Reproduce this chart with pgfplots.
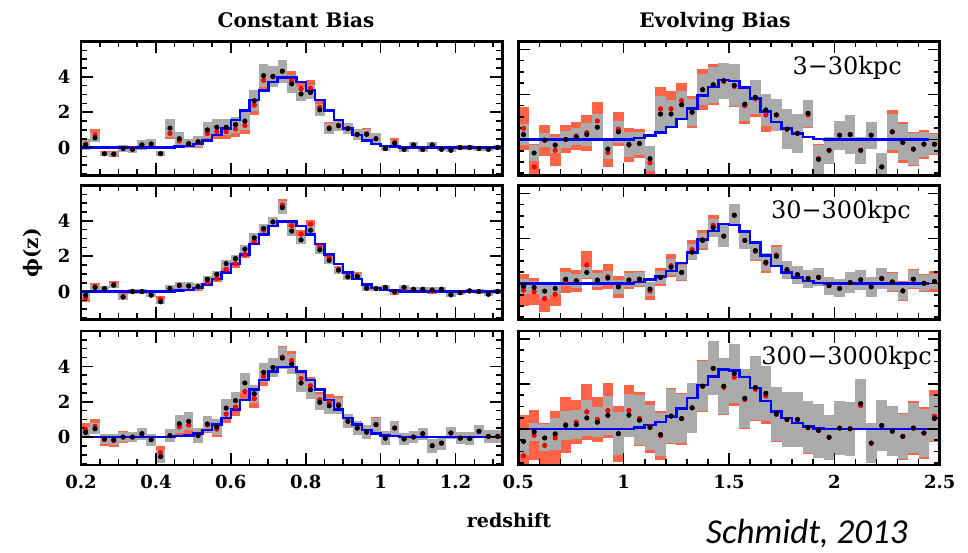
\documentclass[border=0pt]{standalone}
\usepackage{pgfplots}
\pgfplotsset{compat=1.18}
\usepackage{pgfplotstable}
\usepackage{fontspec}
\setmainfont{DejaVu Serif}
\newfontfamily\calibri{Carlito}
\definecolor{bandgray}{RGB}{170,170,170}
\definecolor{bandred}{RGB}{255,99,71}

% ---------------- Constant bias (left column) ----------------
\pgfplotstableread{
z b r eg er
0.2125 0.15 0.20 0.28 0.30
0.2375 0.55 0.70 0.25 0.35
0.2625 -0.35 -0.35 0.12 0.15
0.2875 -0.37 -0.37 0.12 0.15
0.3125 -0.05 -0.05 0.18 0.18
0.3375 -0.10 -0.08 0.18 0.18
0.3625 0.15 0.15 0.30 0.30
0.3875 0.20 0.20 0.30 0.30
0.4125 -0.35 -0.33 0.15 0.15
0.4375 1.10 0.80 0.52 0.33
0.4625 0.50 0.37 0.40 0.35
0.4875 0.22 0.22 0.25 0.25
0.5125 0.33 0.30 0.30 0.30
0.5375 1.00 0.80 0.45 0.40
0.5625 1.15 0.90 0.45 0.40
0.5875 1.15 0.90 0.45 0.40
0.6125 1.30 1.05 0.45 0.45
0.6375 1.50 1.25 0.50 0.50
0.6625 2.65 2.40 0.58 0.55
0.6875 4.07 3.80 0.65 0.60
0.7125 4.03 4.00 0.60 0.60
0.7375 4.33 4.30 0.65 0.65
0.7625 3.60 3.78 0.50 0.55
0.7875 3.03 3.33 0.40 0.45
0.8125 3.12 3.36 0.40 0.45
0.8375 2.13 2.28 0.35 0.35
0.8625 1.07 1.12 0.30 0.30
0.8875 1.23 1.27 0.30 0.30
0.9125 1.07 1.08 0.30 0.30
0.9375 0.75 0.72 0.30 0.30
0.9625 0.75 0.78 0.30 0.30
0.9875 0.50 0.50 0.30 0.30
1.0125 -0.06 -0.06 0.15 0.15
1.0375 0.24 0.30 0.20 0.22
1.0625 -0.10 -0.10 0.15 0.15
1.0875 0.15 0.15 0.18 0.18
1.1125 -0.10 -0.10 0.15 0.15
1.1375 0.15 0.15 0.18 0.18
1.1625 -0.10 -0.10 0.12 0.12
1.1875 -0.15 -0.15 0.12 0.12
1.2125 0.00 0.00 0.12 0.12
1.2375 0.00 0.00 0.12 0.12
1.2625 -0.05 -0.05 0.12 0.12
1.2875 -0.10 -0.10 0.12 0.12
1.3125 0.00 0.00 0.12 0.12
}\TL

\pgfplotstableread{
z b r eg er
0.2125 -0.20 -0.34 0.20 0.25
0.2375 0.23 0.28 0.15 0.20
0.2625 0.17 0.17 0.15 0.15
0.2875 0.36 0.40 0.15 0.20
0.3125 -0.30 -0.30 0.15 0.20
0.3375 0.00 0.00 0.12 0.12
0.3625 0.00 0.00 0.12 0.12
0.3875 -0.20 -0.20 0.12 0.12
0.4125 -0.58 -0.43 0.15 0.20
0.4375 0.17 0.17 0.20 0.20
0.4625 0.36 0.32 0.20 0.20
0.4875 0.32 0.30 0.20 0.20
0.5125 0.28 0.25 0.20 0.20
0.5375 0.70 0.50 0.20 0.20
0.5625 0.98 0.74 0.20 0.20
0.5875 1.58 1.26 0.22 0.22
0.6125 1.87 1.58 0.22 0.22
0.6375 2.40 2.10 0.22 0.22
0.6625 3.04 2.87 0.25 0.25
0.6875 3.57 3.47 0.25 0.25
0.7125 3.94 3.94 0.25 0.25
0.7375 4.75 4.90 0.35 0.35
0.7625 3.42 3.72 0.25 0.25
0.7875 2.92 3.25 0.25 0.25
0.8125 3.47 3.81 0.25 0.25
0.8375 2.36 2.55 0.22 0.22
0.8625 1.77 1.92 0.20 0.20
0.8875 1.21 1.25 0.20 0.20
0.9125 0.83 0.87 0.20 0.20
0.9375 0.85 0.89 0.20 0.20
0.9625 0.19 0.20 0.15 0.15
0.9875 0.17 0.17 0.15 0.15
1.0125 0.23 0.23 0.15 0.15
1.0375 0.00 -0.05 0.15 0.15
1.0625 0.23 0.18 0.15 0.15
1.0875 0.13 0.13 0.15 0.15
1.1125 0.13 0.13 0.15 0.15
1.1375 0.09 0.04 0.15 0.15
1.1625 0.13 0.13 0.15 0.15
1.1875 -0.19 -0.19 0.12 0.12
1.2125 -0.06 -0.06 0.12 0.12
1.2375 0.04 0.04 0.12 0.12
1.2625 0.00 0.00 0.12 0.12
1.2875 -0.15 -0.15 0.12 0.12
1.3125 0.00 0.00 0.12 0.12
}\ML

\pgfplotstableread{
z b r eg er
0.2125 0.26 0.42 0.30 0.40
0.2375 0.47 0.60 0.30 0.45
0.2625 -0.10 -0.15 0.30 0.35
0.2875 -0.15 -0.20 0.30 0.35
0.3125 0.00 0.00 0.30 0.35
0.3375 0.00 0.00 0.30 0.30
0.3625 0.19 0.19 0.35 0.35
0.3875 -0.15 -0.15 0.35 0.35
0.4125 -1.10 -0.87 0.35 0.35
0.4375 0.08 0.08 0.35 0.35
0.4625 0.75 0.57 0.50 0.50
0.4875 0.89 0.68 0.50 0.50
0.5125 0.09 0.09 0.40 0.40
0.5375 0.74 0.68 0.45 0.45
0.5625 0.57 0.45 0.45 0.45
0.5875 1.64 1.30 0.50 0.50
0.6125 2.06 1.70 0.50 0.50
0.6375 3.06 2.58 0.55 0.55
0.6625 2.45 2.17 0.50 0.50
0.6875 3.66 3.43 0.55 0.55
0.7125 3.94 3.94 0.55 0.55
0.7375 4.47 4.53 0.60 0.60
0.7625 4.13 4.34 0.55 0.55
0.7875 3.06 3.32 0.50 0.50
0.8125 2.68 2.90 0.50 0.50
0.8375 1.96 2.11 0.45 0.45
0.8625 1.77 1.96 0.45 0.45
0.8875 1.77 1.85 0.45 0.45
0.9125 0.89 0.89 0.40 0.40
0.9375 0.51 0.51 0.40 0.40
0.9625 0.28 0.28 0.40 0.40
0.9875 0.70 0.72 0.40 0.40
1.0125 -0.06 -0.06 0.40 0.40
1.0375 0.51 0.51 0.40 0.40
1.0625 -0.11 -0.11 0.35 0.35
1.0875 0.00 0.00 0.35 0.35
1.1125 0.19 0.19 0.35 0.35
1.1375 -0.49 -0.49 0.40 0.40
1.1625 -0.34 -0.34 0.40 0.40
1.1875 0.23 0.23 0.35 0.35
1.2125 -0.06 -0.06 0.35 0.35
1.2375 -0.08 -0.08 0.35 0.35
1.2625 0.32 0.32 0.35 0.35
1.2875 0.04 0.04 0.35 0.35
1.3125 0.04 0.04 0.35 0.35
}\BL

% ---------------- Evolving bias (right column) ----------------
\pgfplotstableread{
z b r eg er
0.525 0.22 0.49 0.46 0.97
0.575 -0.60 -1.22 0.37 1.00
0.625 -0.03 -0.03 0.30 0.69
0.675 -0.25 -0.48 0.34 0.72
0.725 0.00 0.00 0.37 0.62
0.775 0.12 0.15 0.37 0.62
0.825 0.22 0.30 0.52 0.80
0.875 0.54 0.82 0.57 0.83
0.925 -0.43 -0.58 0.45 0.64
0.975 0.34 0.46 0.49 0.77
1.025 -0.22 -0.25 0.56 0.76
1.075 -0.18 -0.18 0.52 0.65
1.125 -0.85 -1.03 0.54 0.60
1.175 1.13 1.36 0.82 0.97
1.225 1.13 1.36 0.63 0.80
1.275 1.54 1.72 0.60 0.80
1.325 1.21 1.21 0.60 0.70
1.375 2.21 2.21 0.70 0.90
1.425 2.43 2.43 0.80 0.90
1.475 2.61 2.58 0.80 0.80
1.525 2.40 2.36 0.93 0.93
1.575 1.57 1.50 0.75 0.80
1.625 1.87 1.80 0.75 0.80
1.675 1.31 1.09 0.70 0.75
1.725 1.09 1.09 0.70 0.70
1.775 0.46 0.46 0.90 0.90
1.825 0.27 0.27 0.85 0.85
1.875 1.16 1.09 0.60 0.60
1.925 -0.88 -0.85 0.65 0.65
1.975 -0.48 -0.48 0.60 0.60
2.025 0.19 0.19 0.65 0.65
2.075 0.22 0.22 0.85 0.85
2.125 -0.48 -0.48 0.60 0.60
2.175 0.19 0.19 0.60 0.60
2.225 -1.22 -1.22 0.60 0.60
2.275 0.34 0.34 0.80 0.95
2.325 -0.13 -0.13 0.80 0.90
2.375 -0.43 -0.43 0.70 0.75
2.425 -0.21 -0.21 0.55 0.65
2.475 -0.21 -0.21 0.45 0.50
}\TR

\pgfplotstableread{
z b r eg er
0.525 -0.13 -0.30 0.34 0.70
0.575 -0.18 -0.37 0.30 0.60
0.625 -0.34 -0.67 0.35 0.60
0.675 -0.22 -0.48 0.30 0.50
0.725 0.19 0.12 0.30 0.56
0.775 0.12 0.12 0.30 0.50
0.825 0.49 0.82 0.26 0.60
0.875 0.15 0.15 0.30 0.45
0.925 0.24 0.30 0.30 0.55
0.975 -0.15 -0.15 0.30 0.50
1.025 0.15 0.15 0.30 0.40
1.075 0.19 0.19 0.30 0.35
1.125 -0.25 -0.33 0.30 0.40
1.175 0.27 0.27 0.30 0.40
1.225 0.72 0.79 0.35 0.50
1.275 0.49 0.49 0.35 0.40
1.325 1.39 1.50 0.35 0.45
1.375 1.91 1.94 0.35 0.45
1.425 2.48 2.58 0.40 0.45
1.475 2.10 2.10 0.50 0.50
1.525 3.03 3.03 0.48 0.48
1.575 1.91 1.91 0.40 0.40
1.625 1.46 1.43 0.40 0.45
1.675 0.94 0.90 0.40 0.45
1.725 1.21 1.27 0.40 0.45
1.775 0.61 0.61 0.40 0.40
1.825 0.39 0.39 0.40 0.40
1.875 0.22 0.22 0.40 0.40
1.925 0.27 0.27 0.40 0.40
1.975 -0.10 -0.10 0.40 0.40
2.025 -0.22 -0.22 0.40 0.40
2.075 0.04 0.04 0.45 0.45
2.125 0.16 0.16 0.45 0.45
2.175 -0.15 -0.15 0.45 0.45
2.225 0.22 0.22 0.45 0.45
2.275 0.07 0.07 0.40 0.45
2.325 -0.33 -0.33 0.40 0.45
2.375 0.19 0.19 0.40 0.45
2.425 0.01 0.01 0.35 0.40
2.475 0.09 0.09 0.35 0.45
}\MR

\pgfplotstableread{
z b r eg er
0.525 -0.55 -1.19 0.60 1.80
0.575 -0.13 -0.28 0.40 1.10
0.625 -0.40 -0.73 0.60 1.00
0.675 -0.22 -0.40 0.70 1.20
0.725 0.16 0.19 0.65 1.25
0.775 0.19 0.30 0.63 0.97
0.825 0.49 0.76 0.80 1.25
0.875 0.30 0.42 0.66 1.00
0.925 0.60 0.82 0.85 1.20
0.975 -0.21 -0.21 0.95 1.25
1.025 0.61 0.82 0.95 1.15
1.075 0.39 0.46 1.10 1.20
1.125 0.07 0.10 1.00 1.15
1.175 -0.25 -0.30 0.97 1.10
1.225 0.57 0.57 1.20 1.25
1.275 0.46 0.46 1.10 1.15
1.325 0.94 0.94 1.10 1.12
1.375 1.90 1.90 1.12 1.15
1.425 2.69 2.69 1.20 1.20
1.475 1.90 1.85 1.23 1.25
1.525 2.46 2.30 1.30 1.30
1.575 1.36 1.30 1.30 1.30
1.625 1.84 1.76 1.42 1.42
1.675 1.58 1.46 1.23 1.25
1.725 0.67 0.64 1.20 1.20
1.775 0.42 0.42 1.20 1.20
1.825 0.42 0.42 1.20 1.20
1.875 0.07 0.05 1.15 1.15
1.925 -0.07 -0.07 1.20 1.20
1.975 -0.37 -0.37 1.00 1.00
2.025 0.04 0.04 1.20 1.20
2.075 0.01 0.01 1.20 1.20
2.125 1.12 1.04 1.10 1.10
2.175 -0.63 -0.63 0.90 0.90
2.225 0.15 0.15 1.15 1.15
2.275 -0.10 -0.10 1.10 1.10
2.325 -0.33 -0.33 1.00 1.05
2.375 0.04 0.04 1.10 1.20
2.425 -0.18 -0.18 1.05 1.15
2.475 0.46 0.57 1.00 1.15
}\BR

% ---------------- true distributions (blue steps) ----------------
\pgfplotstableread{
e v
0.200 0
0.450 0.05
0.475 0.08
0.500 0.20
0.525 0.40
0.550 0.72
0.575 1.07
0.600 1.55
0.625 2.10
0.650 2.68
0.675 3.22
0.700 3.72
0.725 3.97
0.750 3.97
0.775 3.72
0.800 3.22
0.825 2.68
0.850 2.10
0.875 1.55
0.900 1.07
0.925 0.72
0.950 0.40
0.975 0.20
1.000 0.08
1.025 0.05
1.050 0
1.325 0
}\BlueL

\pgfplotstableread{
e v
0.50 0
1.05 0.07
1.10 0.17
1.15 0.32
1.20 0.55
1.25 0.90
1.30 1.38
1.35 1.95
1.40 2.32
1.45 2.65
1.50 2.60
1.55 2.30
1.60 1.82
1.65 1.25
1.70 0.78
1.75 0.48
1.80 0.26
1.85 0.10
1.90 0.03
1.95 0
2.45 0
}\BlueR

\pgfplotsset{
  panel/.style={
    scale only axis, width=421.4pt, height=134pt,
    axis on top,
    axis line style={line width=2.6pt},
    every tick/.style={line width=1.6pt, black},
    major tick length=12pt, minor tick length=6pt,
    tick align=inside,
    xtick pos=both, ytick pos=both,
    tick label style={font=\fontsize{18}{21}\selectfont\bfseries},
    /pgf/number format/assume math mode=true,
    yticklabel style={xshift=-7pt},
    xticklabel style={yshift=-7pt},
  },
  leftpanel/.style={panel,
    xmin=0.2, xmax=1.325, ymin=-1.58, ymax=6.0,
    xtick={0.2,0.4,0.6,0.8,1.0,1.2},
    minor xtick={0.25,0.3,0.35,0.45,0.5,0.55,0.65,0.7,0.75,0.85,0.9,0.95,1.05,1.1,1.15,1.25,1.3},
    ytick={0,2,4}, minor ytick={-1.5,-1,-0.5,0.5,1,1.5,2.5,3,3.5,4.5,5,5.5}},
  rightpanel/.style={panel,
    xmin=0.5, xmax=2.5, ymin=-1.6, ymax=4.35,
    xtick={0.5,1,1.5,2,2.5},
    minor xtick={0.6,0.7,0.8,0.9,1.1,1.2,1.3,1.4,1.6,1.7,1.8,1.9,2.1,2.2,2.3,2.4},
    ytick={0,2,4}, yticklabels={},
    minor ytick={-1.5,-1,-0.5,0.5,1,1.5,2.5,3,3.5}},
}

\newcommand{\panelplots}[3]{% table, bin width, blue table
  \addplot[only marks, mark=none, forget plot,
    error bars/.cd, y dir=both, y explicit, error mark=none,
    error bar style={draw=bandred, line width=#2, line cap=butt}]
    table[x=z, y=r, y error=er] {#1};
  \addplot[only marks, mark=none, forget plot,
    error bars/.cd, y dir=both, y explicit, error mark=none,
    error bar style={draw=bandgray, line width=#2, line cap=butt}]
    table[x=z, y=b, y error=eg] {#1};
  \addplot[const plot, blue, line width=2.5pt, forget plot] table[x=e, y=v] {#3};
  \addplot[only marks, mark=*, mark size=2.3pt, draw=red, fill=red, forget plot] table[x=z, y=r] {#1};
  \addplot[only marks, mark=*, mark size=2.3pt, draw=black, fill=black, forget plot] table[x=z, y=b] {#1};
}

\begin{document}
\begin{tikzpicture}
\useasboundingbox (0,0) rectangle (968pt,552pt);

% left column
\begin{axis}[leftpanel, at={(81pt,510.5pt)}, anchor=north west, xticklabels={}]
  \panelplots{\TL}{9.5pt}{\BlueL}
\end{axis}
\begin{axis}[leftpanel, at={(81pt,366.5pt)}, anchor=north west, xticklabels={}]
  \panelplots{\ML}{9.5pt}{\BlueL}
\end{axis}
\begin{axis}[leftpanel, at={(81pt,221pt)}, anchor=north west]
  \panelplots{\BL}{9.5pt}{\BlueL}
\end{axis}

% right column
\begin{axis}[rightpanel, at={(518.3pt,510.5pt)}, anchor=north west, xticklabels={}]
  \panelplots{\TR}{10.65pt}{\BlueR}
\end{axis}
\begin{axis}[rightpanel, at={(518.3pt,366.5pt)}, anchor=north west, xticklabels={}]
  \panelplots{\MR}{10.65pt}{\BlueR}
\end{axis}
\begin{axis}[rightpanel, at={(518.3pt,221pt)}, anchor=north west]
  \panelplots{\BR}{10.65pt}{\BlueR}
\end{axis}

% texts
\node[anchor=base, font=\fontsize{20}{24}\selectfont\bfseries] at (296pt,524.5pt) {Constant Bias};
\node[anchor=base, font=\fontsize{20}{24}\selectfont\bfseries] at (715pt,524.5pt) {Evolving Bias};
\node[rotate=90, font=\fontsize{20}{24}\selectfont\bfseries] at (33pt,299pt) {ϕ(z)};
\node[anchor=base, font=\fontsize{19}{23}\selectfont\bfseries] at (509pt,25pt) {redshift};
\node[anchor=base east, inner sep=0pt, font=\fontsize{24}{28}\selectfont] at (902pt,477pt) {3−30kpc};
\node[anchor=base east, inner sep=0pt, font=\fontsize{24}{28}\selectfont] at (911pt,333pt) {30−300kpc};
\node[anchor=base east, inner sep=0pt, font=\fontsize{24}{28}\selectfont] at (932pt,188pt) {300−3000kpc};
\node[anchor=base west, inner sep=0pt, font=\calibri\itshape\fontsize{35}{40}\selectfont] at (706pt,9pt) {Schmidt, 2013};
\end{tikzpicture}
\end{document}
